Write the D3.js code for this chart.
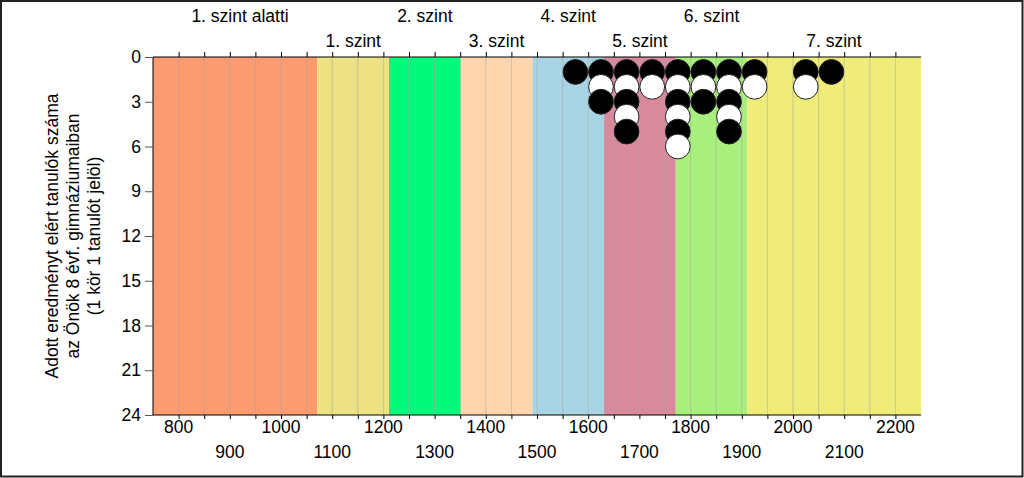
<!DOCTYPE html>
<html>
<head>
<meta charset="utf-8">
<script src="https://cdn.jsdelivr.net/npm/d3@7"></script>
<style>
  html, body { margin: 0; padding: 0; background: #fff; }
  svg { display: block; font-family: "Liberation Sans", Arial, sans-serif; }
</style>
</head>
<body>
<svg id="chart" width="1024" height="478"></svg>
<script>
// ---- data ----
const levelNames = ["1. szint alatti", "1. szint", "2. szint", "3. szint", "4. szint", "5. szint", "6. szint", "7. szint"];
const levelFrom  = [750, 1071, 1211, 1351, 1491, 1631, 1771, 1911];
const levelTo    = [1071, 1211, 1351, 1491, 1631, 1771, 1911, 2250];
const levelLabelAt = [920, 1141, 1281, 1421, 1561, 1701, 1841, 2080];
const levelColors = ["#FB9B6F", "#ECE282", "#00F97A", "#FFD5AE", "#A9D4E3", "#D9899C", "#A9EF7C", "#EFEC79"];

const binScores  = [1575, 1625, 1675, 1725, 1775, 1825, 1875, 1925, 2025, 2075];
const binCounts  = [1, 3, 5, 2, 6, 3, 5, 2, 2, 1];

const xTickValues = [800, 900, 1000, 1100, 1200, 1300, 1400, 1500, 1600, 1700, 1800, 1900, 2000, 2100, 2200];
const yTickValues = [0, 3, 6, 9, 12, 15, 18, 21, 24];
const yTitleLines = ["Adott eredményt elért tanulók száma", "az Önök 8 évf. gimnáziumaiban", "(1 kör 1 tanulót jelöl)"];

// ---- layout ----
const svg = d3.select("#chart");
const W = 1024, H = 478;
const pL = 153, pR = 921, pT = 57, pB = 415;
const fontSize = 17.5;

const x = d3.scaleLinear().domain([750, 2250]).range([pL, pR]);
const y = d3.scaleLinear().domain([0, 24]).range([pT, pB]);

// outer frame
svg.append("rect").attr("x", 1).attr("y", 1).attr("width", W - 2.5).attr("height", H - 2.5)
  .attr("fill", "#fff").attr("stroke", "#222").attr("stroke-width", 2);

// bands
const bands = levelNames.map((n, i) => ({ name: n, from: levelFrom[i], to: levelTo[i], at: levelLabelAt[i], color: levelColors[i] }));
svg.append("g").selectAll("rect").data(bands).join("rect")
  .attr("x", d => x(d.from)).attr("y", pT)
  .attr("width", d => x(d.to) - x(d.from)).attr("height", pB - pT)
  .attr("fill", d => d.color);

// vertical grid lines every 50
const gridVals = d3.range(800, 2250, 50);
svg.append("g").selectAll("line").data(gridVals).join("line")
  .attr("x1", d => x(d)).attr("x2", d => x(d))
  .attr("y1", pT).attr("y2", pB)
  .attr("stroke", "#a8a8a8").attr("stroke-opacity", 0.55).attr("stroke-width", 1);

// top axis: ticks
const topAxis = d3.axisTop(x).tickValues(gridVals).tickSize(5).tickFormat("");
svg.append("g").attr("transform", `translate(0,${pT})`).call(topAxis)
  .call(g => g.select(".domain").attr("stroke", "#000").attr("d", `M${pL},0H${pR}`))
  .call(g => g.selectAll(".tick line").attr("stroke", "#000"));

// top level labels, alternating rows
svg.append("g").selectAll("text").data(bands).join("text")
  .attr("x", d => x(d.at))
  .attr("y", (d, i) => i % 2 === 0 ? 22 : 47)
  .attr("text-anchor", "middle")
  .attr("font-size", fontSize).attr("fill", "#000")
  .text(d => d.name);

// bottom axis
const bottomAxis = d3.axisBottom(x).tickValues(gridVals).tickSize(4).tickFormat("");
svg.append("g").attr("transform", `translate(0,${pB})`).call(bottomAxis)
  .call(g => g.select(".domain").attr("stroke", "#000").attr("d", `M${pL},0H${pR}`))
  .call(g => g.selectAll(".tick line").attr("stroke", "#000"));

svg.append("g").selectAll("text").data(xTickValues).join("text")
  .attr("x", d => x(d))
  .attr("y", (d, i) => i % 2 === 0 ? 433 : 458)
  .attr("text-anchor", "middle")
  .attr("font-size", fontSize).attr("fill", "#000")
  .text(d => d);

// left axis
const leftAxis = d3.axisLeft(y).tickValues(yTickValues).tickSize(8).tickPadding(4);
svg.append("g").attr("transform", `translate(${pL},0)`).call(leftAxis)
  .call(g => g.select(".domain").attr("stroke", "#000").attr("d", `M0,${pT}V${pB}`))
  .call(g => g.selectAll(".tick line").attr("stroke", "#555"))
  .call(g => g.selectAll(".tick text").attr("font-size", fontSize).attr("font-family", "Liberation Sans, Arial, sans-serif").attr("fill", "#000"));

// y title
const yt = svg.append("text")
  .attr("transform", `translate(58,${(pT + pB) / 2}) rotate(-90)`)
  .attr("text-anchor", "middle").attr("font-size", fontSize).attr("fill", "#000");
yTitleLines.forEach((t, i) => {
  yt.append("tspan").attr("x", 0).attr("dy", i === 0 ? 0 : 21).text(t);
});

// dots
const dots = [];
binScores.forEach((s, i) => {
  for (let k = 0; k < binCounts[i]; k++) dots.push({ score: s, n: k + 1 });
});
const r = (y(1) - y(0)) * 0.83;
svg.append("g").selectAll("circle").data(dots).join("circle")
  .attr("cx", d => x(d.score)).attr("cy", d => y(d.n))
  .attr("r", r)
  .attr("fill", d => d.n % 2 === 1 ? "#000" : "#fff")
  .attr("stroke", "#222").attr("stroke-width", 1);
</script>
</body>
</html>
